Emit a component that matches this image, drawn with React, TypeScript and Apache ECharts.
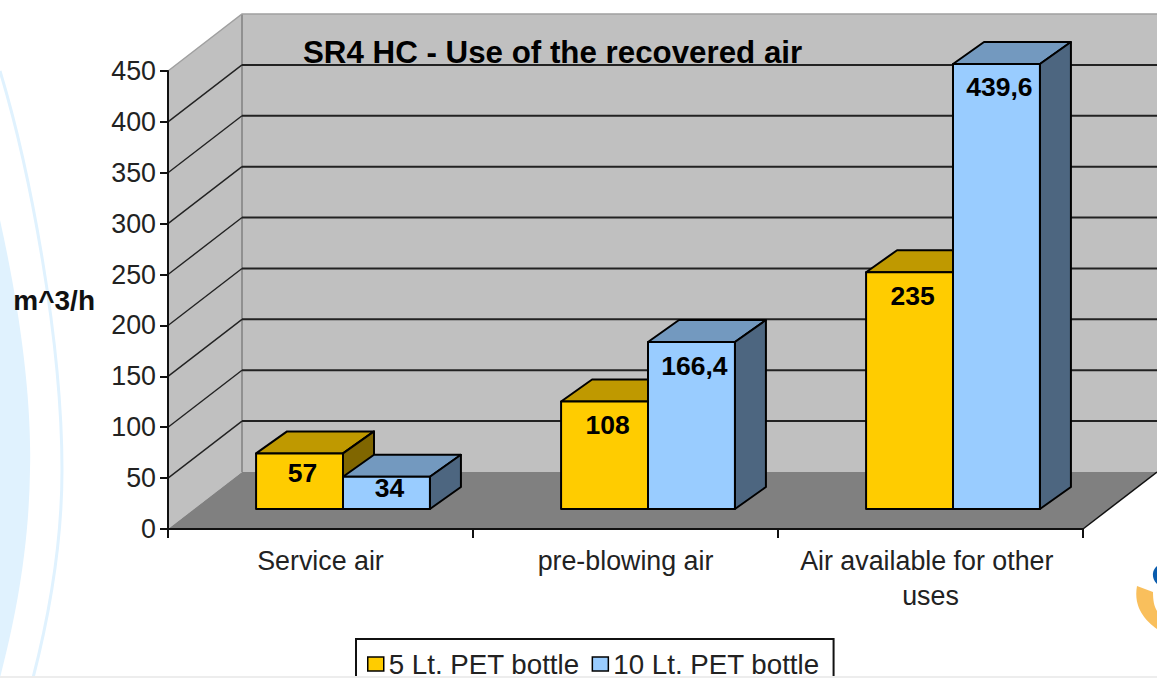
import React, { useEffect, useRef } from "react";
import * as echarts from "echarts";

const categories = ["Service air", "pre-blowing air", "Air available for other uses"];
const series5Lt = [57, 108, 235];
const series10Lt = [34, 166.4, 439.6];
const yTicks = [0, 50, 100, 150, 200, 250, 300, 350, 400, 450];
const name5Lt = "5 Lt. PET bottle";
const name10Lt = "10 Lt. PET bottle";
const titleText = "SR4 HC - Use of the recovered air";
const unitText = "m^3/h";

const FONT = "'Liberation Sans', Arial, sans-serif";
const WALL_DX = 74;
const WALL_DY = -57;
const BAR_DX = 31;
const BAR_DY = -22;
const BAR_SHIFT_X = 22.5;
const BAR_BASE_DY = -20;
const BAR_TOP_DY = -17.6;
const BAR_WIDTH_RATIO = 0.285;

const colors5 = { front: "#FFCC00", top: "#BF9900", side: "#806600" };
const colors10 = { front: "#99CCFF", top: "#7399BF", side: "#4D6680" };

echarts.graphic.registerShape(
  "bgBlob",
  echarts.graphic.extendPath("M0 220 C20 310 32 400 30 470 C29 550 15 620 0 678 Z", {})
);
echarts.graphic.registerShape(
  "bgArc",
  echarts.graphic.extendPath("M0 71 C30 170 62 340 62 470 C62 550 48 620 33 678", {})
);
echarts.graphic.registerShape(
  "logoOrange",
  echarts.graphic.extendPath("M1137 586 L1153 592 C1153 600 1154 606 1157 611 L1157 629 C1146 621 1133 608 1137 586 Z", {})
);
echarts.graphic.registerShape(
  "logoBlue",
  echarts.graphic.extendPath("M1157 566 C1152 570 1151 578 1157 584 Z", {})
);

function renderWalls(params: any, api: any) {
  const tick = api.value(1);
  const c = api.coord([0, tick]);
  const band = api.size([1, 0])[0];
  const n = categories.length;
  const left = c[0] - band / 2;
  const right = left + band * n;
  const y = c[1];
  const children: any[] = [];
  const bx = left + WALL_DX;
  const by = y + WALL_DY;
  if (tick === 0) {
    const yTop = api.coord([0, yTicks[yTicks.length - 1]])[1];
    children.push({
      type: "polygon",
      shape: { points: [[left, yTop], [bx, yTop + WALL_DY], [right + WALL_DX, yTop + WALL_DY], [right + WALL_DX, by], [bx, by], [left, y]] },
      style: { fill: "#C0C0C0", stroke: "none" },
    });
    children.push({
      type: "polygon",
      shape: { points: [[left, y], [right, y], [right + WALL_DX, by], [bx, by]] },
      style: { fill: "#808080", stroke: "none" },
    });
    children.push({
      type: "line",
      shape: { x1: bx, y1: yTop + WALL_DY, x2: bx, y2: by },
      style: { stroke: "#808080", lineWidth: 1.5 },
    });
    children.push({
      type: "polyline",
      shape: { points: [[left, yTop], [bx, yTop + WALL_DY], [right + WALL_DX, yTop + WALL_DY]] },
      style: { stroke: "#A0A0A0", lineWidth: 1.5, fill: "none" },
    });
    children.push({
      type: "line",
      shape: { x1: right, y1: y, x2: right + WALL_DX, y2: by },
      style: { stroke: "#111", lineWidth: 1.5 },
    });
  } else if (tick !== yTicks[yTicks.length - 1]) {
    children.push({
      type: "line",
      shape: { x1: left, y1: y, x2: bx, y2: by },
      style: { stroke: "#222", lineWidth: 1.4 },
    });
    children.push({
      type: "line",
      shape: { x1: bx, y1: by, x2: right + WALL_DX, y2: by },
      style: { stroke: "#222", lineWidth: 2 },
    });
  }
  return { type: "group", children };
}

function makeBarRenderer(colors: { front: string; top: string; side: string }, side: number) {
  return (params: any, api: any) => {
    const idx = api.value(0);
    const v = api.value(1);
    const top = api.coord([idx, v]);
    const base = api.coord([idx, 0]);
    const w = api.size([1, 0])[0] * BAR_WIDTH_RATIO;
    const x0 = top[0] + BAR_SHIFT_X + (side === 0 ? -w : 0);
    const x1 = x0 + w;
    const yT = top[1] + BAR_TOP_DY;
    const yB = base[1] + BAR_BASE_DY;
    const h = yB - yT;
    const stroke = { stroke: "#000", lineWidth: 2, lineJoin: "round" };
    const labelDy = Math.min(23.5, h * 0.36);
    return {
      type: "group",
      children: [
        { type: "polygon", shape: { points: [[x0, yT], [x1, yT], [x1 + BAR_DX, yT + BAR_DY], [x0 + BAR_DX, yT + BAR_DY]] }, style: { fill: colors.top, ...stroke } },
        { type: "polygon", shape: { points: [[x1, yT], [x1 + BAR_DX, yT + BAR_DY], [x1 + BAR_DX, yB + BAR_DY], [x1, yB]] }, style: { fill: colors.side, ...stroke } },
        { type: "rect", shape: { x: x0, y: yT, width: w, height: h }, style: { fill: colors.front, ...stroke } },
        {
          type: "text",
          z2: 10,
          style: {
            x: (x0 + x1) / 2 + 3,
            y: yT + labelDy,
            text: String(v).replace(".", ","),
            fill: "#000",
            font: `bold 26.5px ${FONT}`,
            align: "center",
            verticalAlign: "middle",
          },
        },
      ],
    };
  };
}

export default function App() {
  const ref = useRef<HTMLDivElement>(null);
  useEffect(() => {
    const chart = echarts.init(ref.current!, undefined, { renderer: "svg" });
    chart.setOption({
      animation: false,
      backgroundColor: "#fff",
      title: {
        text: titleText,
        left: 303,
        top: 37,
        padding: 0,
        textStyle: { fontFamily: FONT, fontWeight: "bold", fontSize: 31.3, color: "#000" },
        z: 20,
      },
      grid: { left: 168, top: 71, width: 915, height: 458, containLabel: false },
      xAxis: {
        type: "category",
        data: categories,
        z: 5,
        axisLine: { lineStyle: { color: "#111", width: 2 } },
        axisTick: { show: true, length: 9, lineStyle: { color: "#111", width: 2 }, alignWithLabel: false },
        splitLine: { show: false },
        axisLabel: {
          interval: 0,
          margin: 14,
          width: 290,
          overflow: "break",
          fontFamily: FONT,
          fontSize: 26.8,
          lineHeight: 35,
          color: "#222",
        },
      },
      yAxis: {
        type: "value",
        min: 0,
        max: 450,
        interval: 50,
        z: 5,
        name: unitText,
        nameLocation: "middle",
        nameRotate: 0,
        nameGap: 73,
        nameTextStyle: { fontFamily: FONT, fontWeight: "bold", fontSize: 28, color: "#111" },
        axisLine: { show: true, lineStyle: { color: "#111", width: 2 } },
        axisTick: { show: true, length: 8, lineStyle: { color: "#111", width: 2 } },
        splitLine: { show: false },
        axisLabel: { margin: 12, fontFamily: FONT, fontSize: 26.8, color: "#222" },
      },
      legend: {
        left: 356,
        top: 639,
        orient: "horizontal",
        padding: [11, 14, 30, 11],
        itemGap: 12,
        itemWidth: 16,
        itemHeight: 14,
        backgroundColor: "#fff",
        borderColor: "#111",
        borderWidth: 2,
        textStyle: { fontFamily: FONT, fontSize: 27.7, color: "#222" },
        data: [
          { name: name5Lt, icon: "rect", itemStyle: { color: colors5.front, borderColor: "#000", borderWidth: 1.5 } },
          { name: name10Lt, icon: "rect", itemStyle: { color: colors10.front, borderColor: "#000", borderWidth: 1.5 } },
        ],
      },
      graphic: [
        { type: "bgBlob", z: 0, silent: true, style: { fill: "#E0F2FE" } },
        { type: "bgArc", z: 0, silent: true, style: { fill: "none", stroke: "#E0F2FE", lineWidth: 3 } },
        { type: "logoOrange", z: 0, silent: true, style: { fill: "#F9BF5C" } },
        { type: "logoBlue", z: 0, silent: true, style: { fill: "#0A5CAD" } },
        { type: "rect", z: 30, silent: true, shape: { x: 0, y: 676, width: 1157, height: 2 }, style: { fill: "#EDEDED" } },
      ],
      series: [
        {
          type: "custom",
          name: "walls",
          z: 1,
          silent: true,
          renderItem: renderWalls,
          data: yTicks.map((t) => [0, t]),
        },
        {
          type: "custom",
          name: name5Lt,
          z: 2,
          itemStyle: { color: colors5.front },
          renderItem: makeBarRenderer(colors5, 0),
          data: series5Lt.map((v, i) => [i, v]),
        },
        {
          type: "custom",
          name: name10Lt,
          z: 3,
          itemStyle: { color: colors10.front },
          renderItem: makeBarRenderer(colors10, 1),
          data: series10Lt.map((v, i) => [i, v]),
        },
      ],
    });
    return () => chart.dispose();
  }, []);
  return (
    <div
      ref={ref}
      style={{ position: "fixed", left: 0, top: 0, width: 1157, height: 678 }}
    />
  );
}
